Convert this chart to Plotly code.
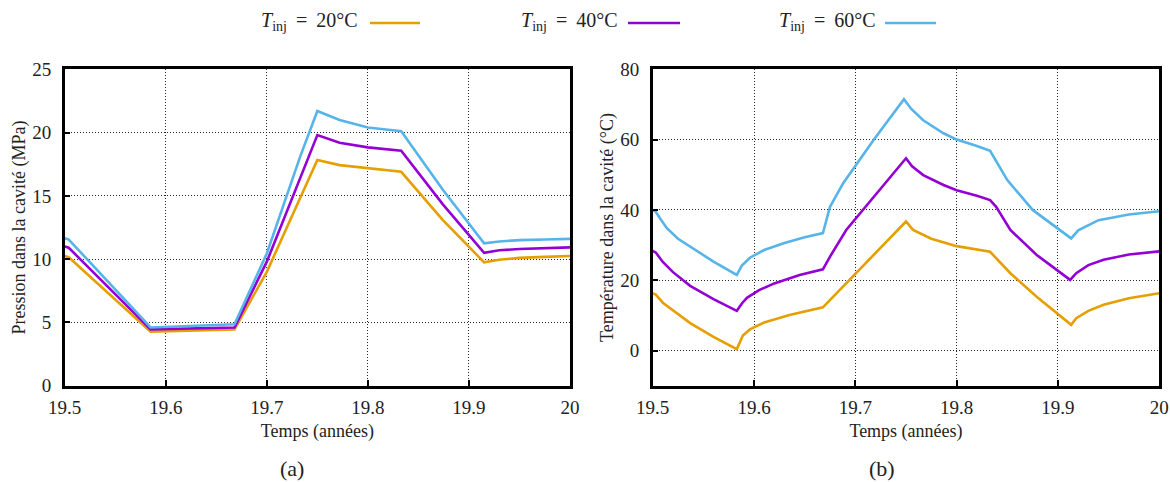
import plotly.graph_objects as go

# ---------------- data ----------------
series_names = ["T<sub>inj</sub> = 20°C", "T<sub>inj</sub> = 40°C", "T<sub>inj</sub> = 60°C"]
legend_labels = ["<i>T</i><sub>inj</sub>\u2009\u00a0=\u00a0\u200920°C",
                 "<i>T</i><sub>inj</sub>\u2009\u00a0=\u00a0\u200940°C",
                 "<i>T</i><sub>inj</sub>\u2009\u00a0=\u00a0\u200960°C"]
colors = ["#E69F00", "#9400D3", "#56B4E9"]

# Pressure (MPa) - shared time grid
t_pressure = [19.500, 19.504, 19.585, 19.668, 19.700, 19.733, 19.750, 19.772, 19.800,
              19.833, 19.874, 19.915, 19.930, 19.950, 19.975, 20.000]
p_20 = [10.25, 10.15, 4.27, 4.45, 9.0, 14.9, 17.83, 17.43, 17.17, 16.9, 13.1, 9.75, 9.95, 10.1, 10.18, 10.25]
p_40 = [11.0, 10.9, 4.45, 4.6, 9.8, 16.4, 19.8, 19.2, 18.83, 18.56, 14.35, 10.5, 10.7, 10.8, 10.88, 10.93]
p_60 = [11.65, 11.55, 4.6, 4.85, 10.45, 18.1, 21.7, 21.0, 20.4, 20.1, 15.5, 11.25, 11.4, 11.5, 11.55, 11.6]

# Temperature (°C)
t_temp_20 = [19.500, 19.503, 19.510, 19.520, 19.537, 19.560, 19.583, 19.589, 19.596, 19.610,
             19.635, 19.668, 19.750, 19.757, 19.775, 19.800, 19.833, 19.853, 19.879, 19.913,
             19.918, 19.930, 19.945, 19.970, 20.000]
temp_20 = [16.3, 15.9, 13.6, 11.4, 7.8, 3.9, 0.4, 4.3, 6.0, 8.0,
           10.1, 12.3, 36.7, 34.3, 31.8, 29.7, 28.1, 22.0, 15.3, 7.3,
           9.2, 11.3, 13.0, 14.9, 16.3]

t_temp_40 = [19.500, 19.503, 19.510, 19.520, 19.537, 19.560, 19.583, 19.588, 19.593, 19.605,
             19.620, 19.645, 19.668, 19.675, 19.691, 19.750, 19.756, 19.767, 19.787, 19.800,
             19.820, 19.833, 19.839, 19.853, 19.879, 19.900, 19.912, 19.918, 19.930, 19.945,
             19.970, 20.000]
temp_40 = [28.3, 27.9, 25.2, 22.3, 18.4, 14.6, 11.3, 13.4, 15.0, 17.2,
           19.1, 21.5, 23.1, 26.7, 34.3, 54.7, 52.4, 49.9, 47.1, 45.6,
           44.0, 42.8, 40.9, 34.3, 27.2, 22.8, 20.1, 22.0, 24.3, 25.8,
           27.3, 28.2]

t_temp_60 = [19.500, 19.503, 19.508, 19.514, 19.525, 19.537, 19.560, 19.583, 19.588, 19.596,
             19.610, 19.630, 19.650, 19.668, 19.675, 19.688, 19.701, 19.718, 19.748, 19.755,
             19.767, 19.787, 19.800, 19.820, 19.833, 19.850, 19.875, 19.900, 19.913, 19.920,
             19.940, 19.970, 20.000]
temp_60 = [39.9, 39.5, 37.3, 34.8, 31.8, 29.5, 25.3, 21.5, 24.2, 26.4,
           28.6, 30.6, 32.2, 33.4, 40.9, 47.6, 52.8, 59.9, 71.5, 68.8,
           65.5, 61.8, 60.0, 58.2, 56.8, 48.5, 40.0, 34.5, 31.9, 34.2,
           37.1, 38.7, 39.6]

x_ticks = [19.5, 19.6, 19.7, 19.8, 19.9, 20.0]
x_tick_labels = ["19.5", "19.6", "19.7", "19.8", "19.9", "20"]
p_ticks = [0, 5, 10, 15, 20, 25]
temp_ticks = [0, 20, 40, 60, 80]

x_title = "Temps (années)"
y_title_left = "Pression dans la cavité (MPa)"
y_title_right = "Température dans la cavité (°C)"
panel_labels = ["(a)", "(b)"]

# ---------------- figure ----------------
W, H = 1170, 482
FONT = "Liberation Serif"

fig = go.Figure()
pressure_series = [p_20, p_40, p_60]
temp_times = [t_temp_20, t_temp_40, t_temp_60]
temp_series = [temp_20, temp_40, temp_60]

for i in range(3):
    fig.add_trace(go.Scatter(x=t_pressure, y=pressure_series[i], mode="lines",
                             name=series_names[i], showlegend=False,
                             line=dict(color=colors[i], width=2.6),
                             xaxis="x", yaxis="y"))
for i in range(3):
    fig.add_trace(go.Scatter(x=temp_times[i], y=temp_series[i], mode="lines",
                             name=series_names[i], showlegend=False,
                             line=dict(color=colors[i], width=2.6),
                             xaxis="x2", yaxis="y2"))

def px_x(p):
    return p / W

def px_y(p):
    return (H - p) / H

left_dom = [px_x(64.7), px_x(570)]
right_dom = [px_x(652.7), px_x(1159.3)]
y_dom = [px_y(385.7), px_y(69.3)]

tickfont = dict(family=FONT, size=19, color="#222222")
titlefont = dict(family=FONT, size=18, color="#222222")

common_axis = dict(showline=True, linecolor="black", linewidth=2.5, mirror=True,
                   ticks="inside", ticklen=6, tickwidth=2, tickcolor="black",
                   showgrid=True, gridcolor="rgba(0,0,0,0.85)", gridwidth=1,
                   griddash="1px,2px", zeroline=False, tickfont=tickfont,
                   automargin=False)

fig.update_layout(
    width=W, height=H,
    margin=dict(l=0, r=0, t=0, b=0),
    paper_bgcolor="white", plot_bgcolor="white",
    xaxis=dict(domain=left_dom, range=[19.5, 20.0], tickvals=x_ticks, ticktext=x_tick_labels,
               anchor="y", ticklabelstandoff=3,
               title=dict(text=x_title, font=titlefont, standoff=8), **common_axis),
    yaxis=dict(domain=y_dom, range=[0, 25], tickvals=p_ticks, anchor="x", ticklabelstandoff=7,
               title=dict(text=y_title_left, font=titlefont, standoff=2), **common_axis),
    xaxis2=dict(domain=right_dom, range=[19.5, 20.0], tickvals=x_ticks, ticktext=x_tick_labels,
                anchor="y2", ticklabelstandoff=3,
                title=dict(text=x_title, font=titlefont, standoff=8), **common_axis),
    yaxis2=dict(domain=y_dom, range=[-10, 80], tickvals=temp_ticks, anchor="x2", ticklabelstandoff=7,
                title=dict(text=y_title_right, font=titlefont, standoff=2), **common_axis),
)

# panel labels
for lbl, xc in zip(panel_labels, [292, 882]):
    fig.add_annotation(text=lbl, x=px_x(xc), y=px_y(468), xref="paper", yref="paper",
                       showarrow=False, xanchor="center", yanchor="middle",
                       font=dict(family=FONT, size=22, color="#222222"))

# legend (text followed by line sample)
text_right = [360, 620, 878]
line_spans = [(370, 420), (628, 680), (885, 936)]
for i in range(3):
    fig.add_annotation(text=legend_labels[i], x=px_x(text_right[i]), y=px_y(22),
                       xref="paper", yref="paper", showarrow=False,
                       xanchor="right", yanchor="middle",
                       font=dict(family=FONT, size=20, color="#222222"))
    fig.add_shape(type="line", xref="paper", yref="paper",
                  x0=px_x(line_spans[i][0]), x1=px_x(line_spans[i][1]),
                  y0=px_y(23), y1=px_y(23), line=dict(color=colors[i], width=2.6))

fig.write_html("out.html", config={"displayModeBar": False},
               post_script="document.body.style.margin='0';document.body.style.overflow='hidden';")
